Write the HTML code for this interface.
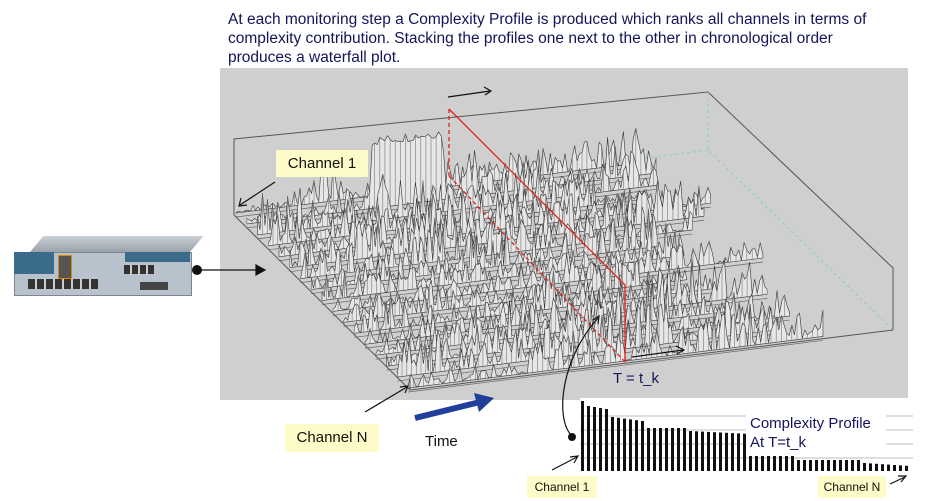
<!DOCTYPE html>
<html><head><meta charset="utf-8"><style>
body{margin:0;width:927px;height:501px;background:#fff;position:relative;overflow:hidden;font-family:"Liberation Sans",sans-serif}
.t{position:absolute;left:228px;top:10px;width:665px;font-size:15.5px;line-height:19px;color:#14145a}
.lab{position:absolute;background:#fdfcc8;color:#111;font-size:15px;text-align:center}
</style></head><body>
<div class="t">At each monitoring step a Complexity Profile is produced which ranks all channels in terms of complexity contribution. Stacking the profiles one next to the other in chronological order produces a waterfall plot.</div>
<svg id="s" width="927" height="501" style="position:absolute;left:0;top:0">
<rect x="220" y="68" width="688" height="332" fill="#cfcfcf"/>
<g id="bx" stroke="#555" stroke-width="1" fill="none">
<polyline points="234,215 234,139 708,92 893,268 893,330"/>
<polyline points="708,92 708,150 893,330" stroke="#8cc" stroke-dasharray="3,3"/>
<polyline points="708,150 236,213" stroke="#8cc" stroke-dasharray="3,3"/>
</g>
<g id="wf"></g>
<g stroke="#555" fill="none"><polyline points="234,215 410,390 893,330"/><line x1="410" y1="390" x2="410" y2="375"/></g>
<g stroke="#e02020" stroke-width="1.3" fill="none">
<polyline points="449,109 625,285 625,362"/>
<line x1="449" y1="109" x2="449" y2="176" stroke-dasharray="4,3"/>
<line x1="449" y1="176" x2="625" y2="362" stroke-dasharray="4,3"/>
</g>
<g stroke="#111" stroke-width="1.2" fill="none">
<line x1="448" y1="97" x2="490" y2="91"/><polyline points="484,87 491,91 485,95"/>
<line x1="632" y1="357" x2="683" y2="350"/><polyline points="676,346 684,350 677,354"/>
<line x1="275" y1="182" x2="240" y2="205"/><polyline points="241,198 239,206 247,205"/>
<line x1="365" y1="412" x2="407" y2="387"/><polyline points="400,387 408,386 405,393"/>
<line x1="197" y1="270" x2="262" y2="270"/><polygon points="256,265 265,270 256,275" fill="#111"/>
<path d="M572,436 C555,420 560,360 598,318"/><polyline points="593,320 599,316 598,324"/>
<line x1="552" y1="470" x2="577" y2="457"/><polyline points="570,457 578,456 574,463"/>
<line x1="890" y1="484" x2="905" y2="477"/><polyline points="898,476 906,476 901,482"/>
</g>
<circle cx="197" cy="270" r="5" fill="#111"/>
<circle cx="572" cy="437" r="4" fill="#111"/>
<path d="M415,418 L480,402" stroke="#1f3f9a" stroke-width="6"/>
<polygon points="474,393 494,398 479,412" fill="#1f3f9a"/>
<rect x="580" y="398" width="335" height="77" fill="#fff"/>
<g stroke="#ccc" stroke-width="1.2" id="gl"></g>
<g id="bars" fill="#111"></g>
<rect x="746" y="408" width="140" height="48" fill="#fff"/>
<text x="750" y="428" font-size="15" fill="#14145a">Complexity Profile</text>
<text x="750" y="447" font-size="15" fill="#14145a">At T=t_k</text>
<text x="613" y="383" font-size="15" fill="#14145a">T = t_k</text>
<text x="425" y="446" font-size="15" fill="#111">Time</text>
</svg>
<div class="lab" style="left:276px;top:150px;width:92px;height:27px;line-height:27px">Channel 1</div>
<div class="lab" style="left:285px;top:424px;width:94px;height:28px;line-height:28px">Channel N</div>
<div class="lab" style="left:527px;top:476px;width:70px;height:22px;line-height:22px;font-size:12px">Channel 1</div>
<div class="lab" style="left:818px;top:476px;width:68px;height:22px;line-height:22px;font-size:12px">Channel N</div>
<!-- router -->
<div style="position:absolute;left:30px;top:236px;width:160px;height:16px;background:linear-gradient(#c9ced3,#9aa2aa);transform:skewX(-40deg);transform-origin:bottom"></div>
<div style="position:absolute;left:14px;top:252px;width:176px;height:42px;background:#b8c2cc;border:1px solid #7a8590"></div>
<div style="position:absolute;left:14px;top:252px;width:40px;height:22px;background:#3b6b8a"></div>
<div style="position:absolute;left:125px;top:252px;width:65px;height:10px;background:#3b6b8a"></div>
<div style="position:absolute;left:28px;top:279px;width:70px;height:10px;background:repeating-linear-gradient(90deg,#333 0 7px,#ccc 7px 9px)"></div>
<div style="position:absolute;left:124px;top:265px;width:30px;height:9px;background:repeating-linear-gradient(90deg,#333 0 6px,#ccc 6px 8px)"></div>
<div style="position:absolute;left:58px;top:255px;width:12px;height:22px;background:#555;border:1px solid #d80"></div>
<div style="position:absolute;left:140px;top:282px;width:28px;height:8px;background:#444"></div>
<script>
function R(n){var x=Math.sin(n*12.9898)*43758.5453;return x-Math.floor(x);}
var wf=document.getElementById('wf'),h='';
var N=17;
for(var i=0;i<N;i++){
 var f=i/(N-1);
 var x0=236+f*172,y0=213+f*175;
 var len=0.93-0.22*R(i+3);
 var dx=483*len,dy=-60*len;
 var pts=[],M=160;
 for(var j=0;j<=M;j++){
  var u=j/M,x=x0+dx*u,y=y0+dy*u;
  var amp=14+34*R(i*7+Math.floor(u*7));
  var hgt=amp*Math.pow(R(i*131+j*17),1.6);
  if(i==1&&u>0.3&&u<0.48) hgt=62+10*R(j);
  if(i<2&&u<0.2) hgt*=0.4;
  pts.push([x,y-hgt]);
 }
 var d='M'+x0+','+y0;
 pts.forEach(function(p){d+=' L'+p[0].toFixed(1)+','+p[1].toFixed(1);});
 d+=' L'+(x0+dx)+','+(y0+dy)+' Z';
 h+='<path d="'+d+'" fill="#e6e6e6" stroke="#333" stroke-width="0.6"/>';
 var v='';
 for(var j=0;j<=M;j+=2){var p=pts[j];v+='M'+p[0].toFixed(1)+','+p[1].toFixed(1)+' l0,'+(y0+dy*j/M-p[1]).toFixed(1)+' ';}
 h+='<path d="'+v+'" stroke="#777" stroke-width="0.6"/>';
 h+='<line x1="'+x0+'" y1="'+(y0+4)+'" x2="'+(x0+dx)+'" y2="'+(y0+dy+4)+'" stroke="#666" stroke-width="0.7"/>';
}
wf.innerHTML=h;
var g='';[416,430,444,458].forEach(function(y){g+='<line x1="580" y1="'+y+'" x2="913" y2="'+y+'"/>';});
document.getElementById('gl').innerHTML=g;
var b='',n=55;
for(var i=0;i<n;i++){
 var x=581+i*6,t;
 if(i<1)t=401;else if(i<5)t=405+i;else if(i<11)t=417+(i-5)*0.8;else if(i<18)t=428;else if(i<28)t=431+(i-18)*0.3;else if(i<36)t=455;else if(i<47)t=460;else t=463+(i-47)*0.4;
 b+='<rect x="'+x+'" y="'+t+'" width="3" height="'+(471-t)+'"/>';
}
document.getElementById('bars').innerHTML=b;
</script>
</body></html>
